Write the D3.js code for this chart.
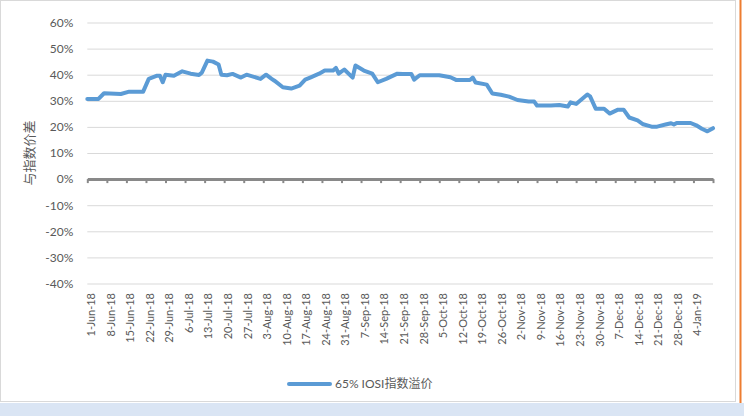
<!DOCTYPE html>
<html>
<head>
<meta charset="utf-8">
<script src="https://cdn.jsdelivr.net/npm/d3@7"></script>
<style>
  body { margin: 0; background: #fff; }
  svg { display: block; font-family: Lato, "Noto Sans CJK SC", sans-serif; }
</style>
</head>
<body>
<svg></svg>
<script>
// the series: date and premium (in %)
let dates = ['2018-06-01','2018-06-05','2018-06-07','2018-06-13','2018-06-16','2018-06-21','2018-06-23','2018-06-26','2018-06-27','2018-06-28',
  '2018-06-29','2018-07-02','2018-07-05','2018-07-08','2018-07-11','2018-07-12','2018-07-14','2018-07-16','2018-07-18','2018-07-19',
  '2018-07-21','2018-07-23','2018-07-26','2018-07-28','2018-08-02','2018-08-04','2018-08-06','2018-08-07','2018-08-10','2018-08-13',
  '2018-08-16','2018-08-18','2018-08-20','2018-08-23','2018-08-25','2018-08-28','2018-08-29','2018-08-30','2018-09-01','2018-09-04',
  '2018-09-05','2018-09-08','2018-09-11','2018-09-13','2018-09-16','2018-09-20','2018-09-22','2018-09-25','2018-09-26','2018-09-28',
  '2018-10-05','2018-10-09','2018-10-11','2018-10-16','2018-10-17','2018-10-18','2018-10-22','2018-10-24','2018-10-27','2018-10-30',
  '2018-11-02','2018-11-06','2018-11-08','2018-11-09','2018-11-14','2018-11-17','2018-11-20','2018-11-21','2018-11-23','2018-11-27',
  '2018-11-28','2018-11-30','2018-12-03','2018-12-05','2018-12-08','2018-12-10','2018-12-12','2018-12-15','2018-12-17','2018-12-20',
  '2018-12-22','2018-12-25','2018-12-27','2018-12-28','2018-12-29','2019-01-03','2019-01-05','2019-01-07','2019-01-09','2019-01-11']
let premium = [30.7,30.7,32.9,32.6,33.5,33.5,38.4,39.6,39.6,37.1,
  40.0,39.6,41.3,40.4,39.9,40.8,45.4,45.0,43.9,40.0,
  39.8,40.3,38.9,40.0,38.4,40.0,38.4,37.7,35.2,34.7,
  35.8,38.1,39.0,40.4,41.6,41.6,42.6,40.4,42.0,38.9,
  43.5,41.6,40.4,37.1,38.4,40.4,40.3,40.3,38.1,39.8,
  39.8,39.0,38.0,38.0,38.9,37.0,36.2,32.8,32.3,31.6,
  30.3,29.7,29.7,28.2,28.2,28.4,27.8,29.4,28.8,32.4,
  31.7,27.0,27.0,25.1,26.6,26.6,23.6,22.5,21.0,20.1,
  20.1,20.9,21.4,20.9,21.5,21.5,20.6,19.3,18.3,19.5]

// axis settings
let yTicks = [-40, -30, -20, -10, 0, 10, 20, 30, 40, 50, 60]
let startDate = '2018-06-01'
let endDate = '2019-01-11'
let lastLabelDate = '2019-01-04'
let yTitle = '与指数价差'
let seriesName = '65% IOSI指数溢价'

let width = 744
let height = 416
let plotLeft = 87.3
let plotRight = 713
let plotTop = 22.5
let plotBottom = 283.5

let parse = d3.timeParse('%Y-%m-%d')
let fmt = d3.timeFormat('%-d-%b-%y')
let values = dates.map((d, i) => [parse(d), premium[i]])

let svg = d3.select('svg').attr('width', width).attr('height', height)

// frame and window bits around the chart
svg.append('rect').attr('x', 0).attr('y', 403).attr('width', width).attr('height', 13).attr('fill', '#dae5f4')
svg.append('rect').attr('x', 0.5).attr('y', 0.5).attr('width', 735).attr('height', 401)
  .attr('fill', '#fff').attr('stroke', '#d9d9d9')
svg.append('line').attr('x1', 740.5).attr('x2', 740.5).attr('y1', 0).attr('y2', 403)
  .attr('stroke', '#ed7d31').attr('stroke-width', 2)

let xScale = d3.scaleTime().domain([parse(startDate), parse(endDate)]).range([plotLeft, plotRight])
let yScale = d3.scaleLinear().domain([-40, 60]).range([plotBottom, plotTop])

// gridlines + y labels
let yAxis = d3.axisLeft(yScale).tickValues(yTicks).tickSize(-(plotRight - plotLeft)).tickFormat(d => d + '%')
let gy = svg.append('g').attr('transform', 'translate(' + plotLeft + ',0)').call(yAxis)
gy.select('.domain').remove()
gy.selectAll('line').attr('stroke', '#d9d9d9').attr('stroke-width', 1)
gy.selectAll('text').attr('x', -14).attr('fill', '#595959').style('font-size', '12px')
  .style('font-family', 'Lato, "Noto Sans CJK SC", sans-serif')

// zero axis with weekly ticks
let weeks = d3.timeFriday.range(parse(startDate), d3.timeDay.offset(parse(endDate), 1))
let xAxis = d3.axisBottom(xScale).tickValues(weeks).tickSizeInner(4).tickSizeOuter(0).tickFormat('')
let gx = svg.append('g').attr('transform', 'translate(0,' + yScale(0) + ')').call(xAxis)
gx.select('.domain').attr('stroke', '#898989').attr('stroke-width', 3)
gx.selectAll('line').attr('stroke', '#898989').attr('stroke-width', 2)

// rotated date labels
let labelWeeks = weeks.filter(d => d <= parse(lastLabelDate))
svg.append('g').selectAll('text')
  .data(labelWeeks)
  .enter()
  .append('text')
  .attr('transform', d => 'translate(' + (xScale(d) + 4) + ',293) rotate(-90)')
  .attr('text-anchor', 'end')
  .attr('dy', '0.35em')
  .attr('fill', '#595959')
  .style('font-size', '11px')
  .text(d => fmt(d))

// y title
svg.append('text')
  .attr('transform', 'translate(29,' + ((plotTop + plotBottom) / 2) + ') rotate(-90)')
  .attr('text-anchor', 'middle')
  .attr('dy', '0.35em')
  .attr('fill', '#595959')
  .style('font-size', '13px')
  .style('font-family', '"Noto Sans CJK SC", sans-serif')
  .text(yTitle)

// the line
let line = d3.line().x(d => xScale(d[0])).y(d => yScale(d[1]))
svg.append('path')
  .datum(values)
  .attr('d', line)
  .attr('fill', 'none')
  .attr('stroke', '#5b9bd5')
  .attr('stroke-width', 4)
  .attr('stroke-linejoin', 'round')
  .attr('stroke-linecap', 'round')

// legend
svg.append('line').attr('x1', 289).attr('x2', 330).attr('y1', 384).attr('y2', 384)
  .attr('stroke', '#5b9bd5').attr('stroke-width', 4).attr('stroke-linecap', 'round')
svg.append('text').attr('x', 335).attr('y', 384).attr('dy', '0.35em')
  .attr('fill', '#595959').style('font-size', '12px')
  .text(seriesName)
</script>
</body>
</html>
